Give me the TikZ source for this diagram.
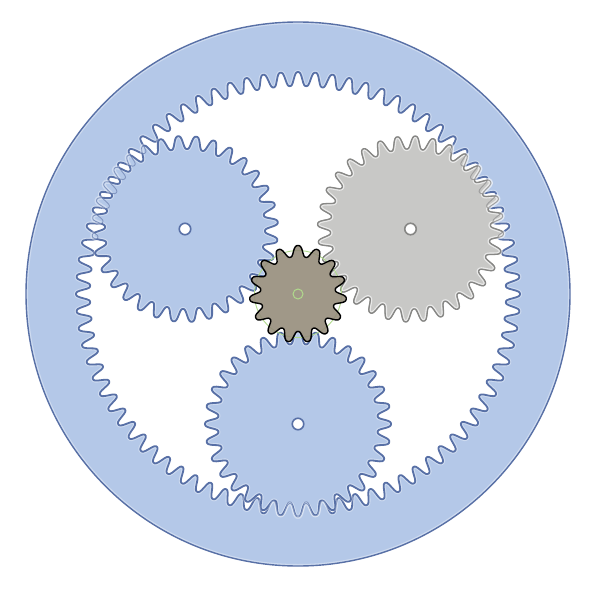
\documentclass[tikz,border=0pt]{standalone}
\definecolor{gearblue}{RGB}{180,200,232}
\definecolor{lineblue}{RGB}{88,112,166}
\definecolor{faintblue}{RGB}{130,150,192}
\definecolor{geargrey}{RGB}{200,200,198}
\definecolor{linegrey}{RGB}{135,135,133}
\definecolor{faintgrey}{RGB}{160,160,160}
\definecolor{sunfill}{RGB}{147,138,120}
\definecolor{pitchgreen}{RGB}{176,218,140}
\tikzset{declare function={toothprofile(\u)=1.09*cos(\u)-.09*cos(3*\u);}}
% centre x, centre y, mean radius, tooth amplitude, teeth, phase
\newcommand\gearcurve[6]{plot[domain=0:#5,samples=\numexpr #5*16+1\relax,variable=\t]
  ({#1+(#3+#4*toothprofile(mod(\t,1)*360+#6))*cos(\t*(360/#5))},{#2+(#3+#4*toothprofile(mod(\t,1)*360+#6))*sin(\t*(360/#5))}) -- cycle}
\newcommand\ringcurve{\gearcurve{298}{294}{215}{7}{80}{0}}
\newcommand\leftcurve{\gearcurve{185}{229}{86.5}{6.5}{32}{135}}
\newcommand\rightcurve{\gearcurve{410.5}{229}{86.5}{6.5}{32}{263.2}}
\newcommand\bottomcurve{\gearcurve{298}{424}{86.5}{6.5}{32}{0}}
\newcommand\suncurve{\gearcurve{298}{294}{43}{5.5}{15}{270}}
\tikzset{
  halo/.style={draw=white,draw opacity=.35,line width=4pt,line join=round},
  bluefill/.style={fill=gearblue},
  greyfill/.style={fill=geargrey},
  darkblue/.style={draw=lineblue,line width=1.8pt,line join=round},
  thinblue/.style={draw=faintblue,line width=.9pt,line join=round},
  darkgrey/.style={draw=linegrey,line width=1.3pt,line join=round},
  thingrey/.style={draw=faintgrey,line width=1pt,line join=round},
  sunline/.style={draw=black,line width=1.4pt,line join=round},
  hole/.style={circle,fill=white,inner sep=0pt,minimum size=11.5pt,line width=1.6pt},
}
\begin{document}
\begin{tikzpicture}[x=1pt,y=-1pt]
\useasboundingbox (0,0) rectangle (596,599);
\fill[white] (0,0) rectangle (596,599);
% ring gear
\fill[gearblue,even odd rule] (298,294) circle (272) \ringcurve;
\draw[halo] (298,294) circle (272);
\draw[darkblue,line width=1.4pt] (298,294) circle (272);
\draw[halo] \ringcurve;
\draw[darkblue] \ringcurve;
% left planet
\fill[bluefill] \leftcurve;
\draw[halo] \leftcurve;
\begin{scope}\clip \leftcurve; \draw[thinblue] \ringcurve; \end{scope}
\draw[thinblue] \leftcurve;
\begin{scope}\clip \ringcurve; \draw[darkblue] \leftcurve; \end{scope}
% bottom planet
\fill[bluefill] \bottomcurve;
\draw[halo] \bottomcurve;
\begin{scope}\clip \bottomcurve; \draw[thinblue] \ringcurve; \end{scope}
\draw[thinblue] \bottomcurve;
\begin{scope}\clip \ringcurve; \draw[darkblue] \bottomcurve; \end{scope}
% right planet
\fill[greyfill] \rightcurve;
\draw[halo,draw opacity=.6] \rightcurve;
\begin{scope}\clip \rightcurve; \draw[thingrey] \ringcurve; \end{scope}
\draw[thingrey] \rightcurve;
\begin{scope}\clip \ringcurve; \draw[darkgrey] \rightcurve; \end{scope}
% holes
\node[hole,draw=lineblue] (holeL) at (185,229) {};
\node[hole,draw=lineblue] (holeB) at (298,424) {};
\node[hole,draw=linegrey] (holeR) at (410.5,229) {};
% sun
\draw[pitchgreen,line width=.9pt] (298,294) circle (43.5);
\fill[sunfill,fill opacity=.88] \suncurve;
\draw[sunline] \suncurve;
\node[circle,draw=pitchgreen,line width=1pt,inner sep=0pt,minimum size=10pt] (sunhub) at (298,294) {};
\end{tikzpicture}
\end{document}
